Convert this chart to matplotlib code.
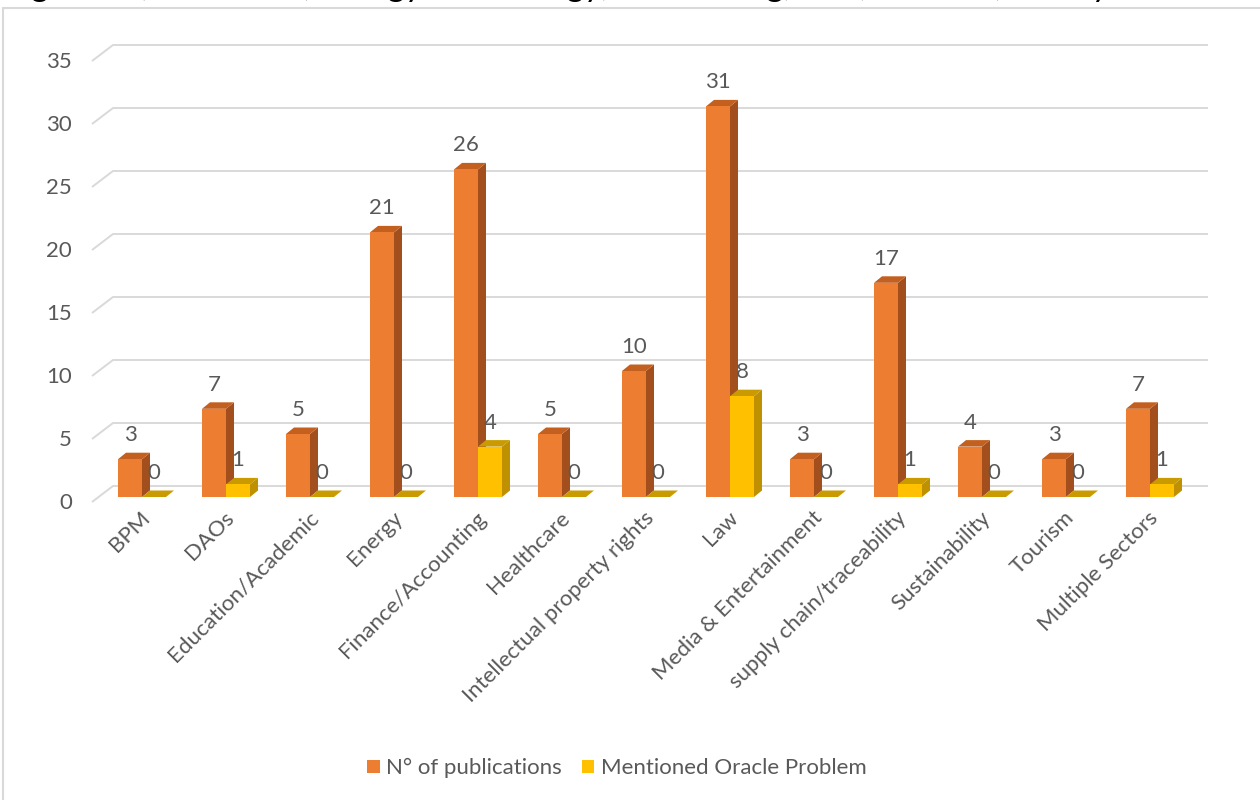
import matplotlib.pyplot as plt
import numpy as np
from matplotlib.patches import Polygon, Rectangle, Patch

plt.rcParams['font.family'] = ['Lato', 'DejaVu Sans']

# publications per sector and how many of them mention the oracle problem
sectors = ['BPM', 'DAOs', 'Education/Academic', 'Energy', 'Finance/Accounting',
           'Healthcare', 'Intellectual property rights', 'Law',
           'Media & Entertainment', 'supply chain/traceability',
           'Sustainability', 'Tourism', 'Multiple Sectors']
publications = [3, 7, 5, 21, 26, 5, 10, 31, 3, 17, 4, 3, 7]
oracle_mentions = [0, 1, 0, 0, 4, 0, 0, 8, 0, 1, 0, 0, 1]
y_ticks = [0, 5, 10, 15, 20, 25, 30, 35]
series_names = ['N° of publications', 'Mentioned Oracle Problem']

TEXT = '#595959'
GRID = '#d9d9d9'
FS = 16
# front / side / top shades for the pseudo-3D columns
ORANGE = ('#ed7d31', '#a24f1d', '#c4601f')
YELLOW = ('#ffc000', '#bf9000', '#c99b00')

W, H = 1260, 800
fig = plt.figure(figsize=(W / 100, H / 100), dpi=100)
ax = fig.add_axes([0, 0, 1, 1])

# pixel layout: cluster spacing 84 px, 12.6 px per unit
px_cat, px_val = 84.0, 12.6
x0_px, y0_px = 142.0, 497.0
ax.set_xlim(-x0_px / px_cat, (W - x0_px) / px_cat)
ax.set_ylim(-(H - y0_px) / px_val, y0_px / px_val)
ax.axis('off')

bw = 24 / px_cat           # bar width
bdx, bdy = 8 / px_cat, 6.5 / px_val        # bar depth offset
wall_dy = 11 / px_val                       # back wall height offset
wall_x = (113 - x0_px) / px_cat
wall_x_end = (1208 - x0_px) / px_cat
side_x = (92 - x0_px) / px_cat
side_dy = (502 - y0_px) / px_val

# back wall gridlines + left wall diagonals
for v in y_ticks:
    ax.plot([side_x, wall_x, wall_x_end],
            [v - side_dy, v + wall_dy, v + wall_dy],
            color=GRID, lw=1.4, solid_capstyle='butt', zorder=1)
    ax.text((72 - x0_px) / px_cat, v - 0.45, str(v), ha='right', va='center',
            fontsize=FS, color=TEXT)


def column(x, v, shades):
    front, side, top = shades
    ax.add_patch(Polygon([(x + bw, 0), (x + bw + bdx, bdy),
                          (x + bw + bdx, v + bdy), (x + bw, v)],
                         closed=True, fc=side, ec='none', zorder=3))
    ax.add_patch(Polygon([(x, v), (x + bw, v), (x + bw + bdx, v + bdy),
                          (x + bdx, v + bdy)],
                         closed=True, fc=top, ec='none', zorder=3))
    if v > 0:
        ax.bar(x, v, width=bw, align='edge', color=front, zorder=3)


idx = np.arange(len(sectors))
for i in idx:
    column(i - bw, publications[i], ORANGE)
    column(i, oracle_mentions[i], YELLOW)
    ax.text(i - bw / 2, publications[i] + 1.9, str(publications[i]),
            ha='center', va='center', fontsize=FS, color=TEXT, zorder=5)
    ax.text(i + bw / 2, oracle_mentions[i] + 1.9, str(oracle_mentions[i]),
            ha='center', va='center', fontsize=FS, color=TEXT, zorder=5)
    ax.text(i + 0.06, -1.4, sectors[i], rotation=45, rotation_mode='anchor',
            ha='right', va='center', fontsize=FS, color=TEXT)

handles = [Patch(fc=ORANGE[0], ec='none'), Patch(fc=YELLOW[0], ec='none')]
fig.legend(handles, series_names, loc='center', ncol=2, frameon=False,
           bbox_to_anchor=(617 / W, 1 - 768 / H), fontsize=FS,
           labelcolor=TEXT, handlelength=0.55, handleheight=0.55,
           handletextpad=0.3, columnspacing=0.9)

# chart area frame
fig.patches.append(Rectangle((3 / W, -0.01), 1.0, 1 - 8 / H + 0.01,
                             transform=fig.transFigure, fill=False,
                             ec='#d9d9d9', lw=1.5))

# line of surrounding text cut off above the chart
fig.text(-4 / W, 1 - 2 / H,
         'nagement, Education, Energy Technology, Accounting, Law, Tourism, mostly Intellectual property rights',
         ha='left', va='bottom', fontsize=24, color='black')

fig.savefig('out.png', dpi=100)
